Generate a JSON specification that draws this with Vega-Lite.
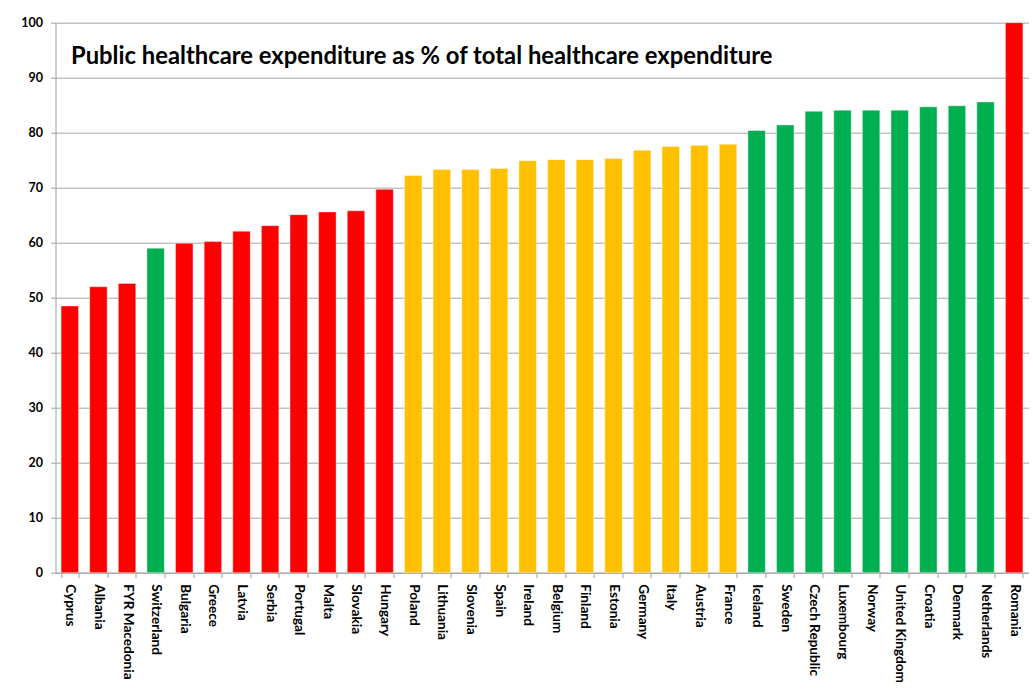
{
  "$schema": "https://vega.github.io/schema/vega-lite/v6.json",
  "autosize": {"type": "none"},
  "width": 973,
  "height": 550,
  "padding": {"left": 55.5, "top": 22.7, "right": 4.5, "bottom": 116.3},
  "background": "white",
  "config": {
    "view": {"stroke": null},
    "font": "Lato"
  },
  "title": {
    "text": "Public healthcare expenditure as % of total healthcare expenditure",
    "anchor": "start",
    "frame": "group",
    "baseline": "alphabetic",
    "offset": 0,
    "dx": 15.5,
    "dy": 71,
    "font": "Lato",
    "fontSize": 23.8,
    "fontWeight": "bold",
    "color": "black"
  },
  "data": {
    "values": [
      {"country": "Cyprus", "value": 48.5, "group": "red"},
      {"country": "Albania", "value": 52.0, "group": "red"},
      {"country": "FYR Macedonia", "value": 52.6, "group": "red"},
      {"country": "Switzerland", "value": 59.0, "group": "green"},
      {"country": "Bulgaria", "value": 59.9, "group": "red"},
      {"country": "Greece", "value": 60.2, "group": "red"},
      {"country": "Latvia", "value": 62.1, "group": "red"},
      {"country": "Serbia", "value": 63.1, "group": "red"},
      {"country": "Portugal", "value": 65.1, "group": "red"},
      {"country": "Malta", "value": 65.6, "group": "red"},
      {"country": "Slovakia", "value": 65.8, "group": "red"},
      {"country": "Hungary", "value": 69.7, "group": "red"},
      {"country": "Poland", "value": 72.2, "group": "yellow"},
      {"country": "Lithuania", "value": 73.3, "group": "yellow"},
      {"country": "Slovenia", "value": 73.3, "group": "yellow"},
      {"country": "Spain", "value": 73.5, "group": "yellow"},
      {"country": "Ireland", "value": 74.9, "group": "yellow"},
      {"country": "Belgium", "value": 75.1, "group": "yellow"},
      {"country": "Finland", "value": 75.1, "group": "yellow"},
      {"country": "Estonia", "value": 75.3, "group": "yellow"},
      {"country": "Germany", "value": 76.8, "group": "yellow"},
      {"country": "Italy", "value": 77.5, "group": "yellow"},
      {"country": "Austria", "value": 77.7, "group": "yellow"},
      {"country": "France", "value": 77.9, "group": "yellow"},
      {"country": "Iceland", "value": 80.4, "group": "green"},
      {"country": "Sweden", "value": 81.4, "group": "green"},
      {"country": "Czech Republic", "value": 83.9, "group": "green"},
      {"country": "Luxembourg", "value": 84.1, "group": "green"},
      {"country": "Norway", "value": 84.1, "group": "green"},
      {"country": "United Kingdom", "value": 84.1, "group": "green"},
      {"country": "Croatia", "value": 84.7, "group": "green"},
      {"country": "Denmark", "value": 84.9, "group": "green"},
      {"country": "Netherlands", "value": 85.6, "group": "green"},
      {"country": "Romania", "value": 100, "group": "red"}
    ]
  },
  "mark": {"type": "bar", "strokeWidth": 0.8, "strokeOpacity": 0.5, "stroke": "white"},
  "encoding": {
    "x": {
      "field": "country",
      "type": "nominal",
      "sort": null,
      "scale": {"paddingInner": 0.39, "paddingOuter": 0.195},
      "axis": {
        "title": null,
        "labelAngle": 90,
        "labelAlign": "left",
        "labelBaseline": "middle",
        "labelFont": "Lato",
        "labelFontSize": 13.6,
        "labelFontWeight": "bold",
        "labelColor": "black",
        "labelPadding": 6,
        "domainColor": "#a0a0a0",
        "tickColor": "#a0a0a0",
        "tickSize": 5,
        "tickBand": "extent",
        "grid": false
      }
    },
    "y": {
      "field": "value",
      "type": "quantitative",
      "scale": {"domain": [0, 100], "nice": false},
      "axis": {
        "title": null,
        "values": [0, 10, 20, 30, 40, 50, 60, 70, 80, 90, 100],
        "labelFont": "Lato",
        "labelFontSize": 12.5,
        "labelFontWeight": "bold",
        "labelColor": "black",
        "labelPadding": 8,
        "domainColor": "#a0a0a0",
        "tickColor": "#a0a0a0",
        "tickSize": 5,
        "grid": true,
        "gridColor": "#a6a6a6",
        "gridWidth": 1
      }
    },
    "color": {
      "field": "group",
      "type": "nominal",
      "scale": {"domain": ["red", "yellow", "green"], "range": ["#FF0000", "#FFC000", "#00B050"]},
      "legend": null
    }
  }
}
